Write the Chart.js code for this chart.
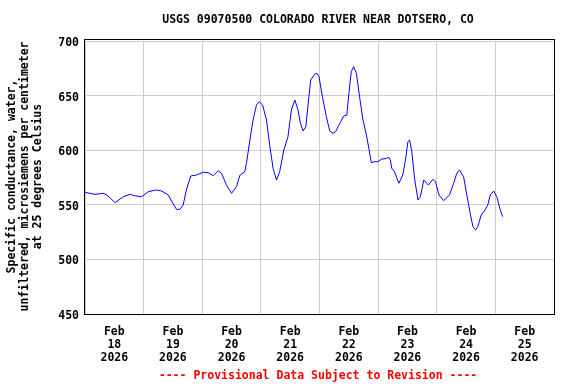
<!DOCTYPE html>
<html>
<head>
<meta charset="utf-8">
<script src="https://cdn.jsdelivr.net/npm/chart.js@4.4.1/dist/chart.umd.min.js"></script>
<style>
  html, body { margin: 0; padding: 0; background: #fff; }
  canvas { display: block; }
</style>
</head>
<body>
<canvas id="chart" width="576" height="384"></canvas>
<script>
// Data: hours since Feb 18 00:00, conductance (uS/cm)
var hours = [0, 2, 4.1, 7.5, 8.9, 11.6, 12.3, 15.7, 18.4, 20.4, 23.2, 25.9, 29.3, 31.4, 34.1, 36.1,
    37.5, 38.8, 40.2, 41.5, 43.3, 45.7, 48.4, 50.4, 52.5, 54.5, 55.9, 57.9, 60, 62, 63.4, 65.4, 66.1,
    67.5, 68.8, 70.2, 71.3, 72.7, 74.3, 75.6, 77, 78.4, 79.7, 81.4, 83.1, 84.5, 85.9, 87.2, 88.2, 89.3,
    90.4, 91.3, 92.4, 94, 95, 95.8, 97.2, 98.8, 100.2, 101.5, 102.6, 104.3, 105.9, 107.2, 108.1, 109,
    110, 111.1, 112.4, 113.8, 115.2, 116.2, 117.2, 118.6, 119.9, 121.3, 123.4, 124.4, 125, 125.6, 126.7,
    128.5, 130.1, 131.2, 132.2, 132.9, 133.8, 134.9, 136.3, 137.3, 138.7, 140.6, 142.4, 143.5, 144.9,
    146.8, 149.2, 150.9, 152.2, 153.3, 155, 156.3, 157.7, 158.8, 159.9, 160.8, 162.2, 163.5, 164.9,
    165.9, 167.3, 168.6, 170, 171];
var conductance = [561.4, 560.5, 559.6, 560.5, 559, 553.5, 552, 557.4, 559.6, 558.3, 557.4, 562, 563.6,
    562.6, 559, 550.7, 545.8, 545.8, 549.8, 563.6, 576.4, 577.3, 579.8, 579.4, 576.7, 581.2, 578.8, 568.1,
    560.5, 566.6, 577, 580.3, 588, 609.3, 627.7, 641.4, 644.4, 641.4, 627.7, 604.8, 583.4, 572.7, 580.3,
    600.2, 612.4, 636.8, 646, 636.8, 624.6, 617.6, 621.5, 641.4, 664.3, 669.5, 670.4, 667.3, 649, 630.7,
    617.6, 615.5, 616.9, 624.6, 631.3, 632.2, 653.6, 671.9, 676.5, 670.4, 649, 627.7, 613.9, 601.7, 588.6,
    589.5, 589.5, 591.7, 592.6, 593.5, 591, 583.4, 580.3, 569.7, 577.3, 591, 607.8, 609.3, 598.6, 574.3,
    554.4, 557.4, 572.7, 568.1, 573.3, 571.2, 559, 553.8, 559, 569.7, 578.8, 581.9, 575.7, 559, 542.2,
    530, 527, 530, 540.7, 544.3, 549.8, 559, 562.6, 557.4, 545.2, 539.1];

var dayLabels = ['18', '19', '20', '21', '22', '23', '24', '25'];
var monthLabel = 'Feb';
var yearLabel = '2026';
var yTicks = [450, 500, 550, 600, 650, 700];

var chartTitle = 'USGS 09070500 COLORADO RIVER NEAR DOTSERO, CO';
var yTitle = ['Specific conductance, water,', 'unfiltered, microsiemens per centimeter', 'at 25 degrees Celsius'];
var footNote = '---- Provisional Data Subject to Revision ----';

var monoFont = '"DejaVu Sans Mono", "Liberation Mono", monospace';
var gridColor = '#cccccc';

var points = hours.map(function (h, i) { return { x: h, y: conductance[i] }; });

// title, y title, footnote and frame
var usgsText = {
    id: 'usgsText',
    afterDraw: function (chart) {
        var ctx = chart.ctx, a = chart.chartArea;
        ctx.save();
        ctx.strokeStyle = '#000';
        ctx.lineWidth = 1;
        ctx.strokeRect(a.left - 0.5, a.top - 1.5, a.right - a.left + 1, a.bottom - a.top + 2);

        ctx.font = 'bold 11.5px ' + monoFont;
        ctx.textAlign = 'center';
        ctx.textBaseline = 'middle';
        ctx.fillStyle = '#000';
        ctx.fillText(chartTitle, 318, 20);
        ctx.fillStyle = '#ff0000';
        ctx.fillText(footNote, 318, 376);

        ctx.fillStyle = '#000';
        ctx.translate(0, (a.top + a.bottom) / 2 - 1);
        ctx.rotate(-Math.PI / 2);
        yTitle.forEach(function (line, i) {
            ctx.fillText(line, 0, 12.5 + i * 12.7);
        });
        ctx.restore();
    }
};

new Chart(document.getElementById('chart'), {
    type: 'line',
    data: {
        datasets: [{
            data: points,
            borderColor: '#0000ff',
            borderWidth: 1,
            pointRadius: 0,
            tension: 0,
            fill: false
        }]
    },
    options: {
        responsive: false,
        animation: false,
        devicePixelRatio: 1,
        layout: { padding: { top: 41, right: 22, left: 0, bottom: 0 } },
        plugins: {
            legend: { display: false },
            tooltip: { enabled: false }
        },
        scales: {
            x: {
                type: 'linear',
                min: 0,
                max: 192,
                afterBuildTicks: function (s) {
                    s.ticks = [];
                    for (var h = 0; h <= 192; h += 12) s.ticks.push({ value: h });
                },
                afterFit: function (s) { s.height = 70; },
                border: { display: false },
                grid: {
                    drawTicks: false,
                    color: function (c) {
                        return c.tick && c.tick.value % 24 === 0 ? gridColor : 'rgba(0,0,0,0)';
                    }
                },
                ticks: {
                    autoSkip: false,
                    maxRotation: 0,
                    padding: 12,
                    color: '#000',
                    font: { family: monoFont, size: 11.5, weight: 'bold', lineHeight: 1.13 },
                    callback: function (v) {
                        if (v % 24 !== 12) return '';
                        return [monthLabel, dayLabels[(v - 12) / 24], yearLabel];
                    }
                }
            },
            y: {
                min: yTicks[0],
                max: yTicks[yTicks.length - 1],
                afterFit: function (s) { s.width = 85; },
                border: { display: false },
                grid: { color: gridColor, drawTicks: false },
                ticks: {
                    stepSize: 50,
                    padding: 6,
                    labelOffset: 2,
                    color: '#000',
                    font: { family: monoFont, size: 11.5, weight: 'bold' }
                }
            }
        }
    },
    plugins: [usgsText]
});
</script>
</body>
</html>
